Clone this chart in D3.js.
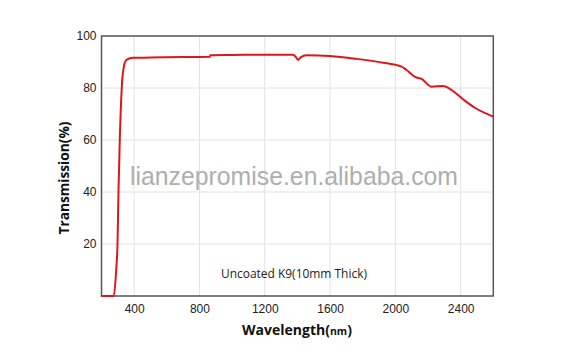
<!DOCTYPE html>
<html><head><meta charset="utf-8">
<script src="https://cdn.jsdelivr.net/npm/d3@7"></script>
<style>body{margin:0;background:#fff}svg{display:block}</style>
</head><body>
<svg id="c" width="585" height="356"></svg>
<script>
const wavelength = [200,275,290,298,304,312,324,337,353,394,500,700,864,866,1000,1200,1374,1392,1405,1420,1456,1600,1762,1925,2038,2069,2120,2161,2222,2293,2345,2416,2487,2600];
const transmission = [0,0,10,20,40,60,80,88.2,90.8,91.6,91.7,91.9,92.0,92.6,92.7,92.8,92.8,91.8,90.8,91.8,92.6,92.3,91.2,89.7,88.2,86.9,84.3,83.5,80.5,80.8,79.2,75.6,72.4,69.0];
const xTicks = [400,800,1200,1600,2000,2400];
const yTicks = [20,40,60,80,100];

const svg = d3.select("#c");
const L=101.5, R=493.3, T=36, B=296;
const x = d3.scaleLinear().domain([200,2600]).range([L,R]);
const y = d3.scaleLinear().domain([0,100]).range([B,T]);

// grid
svg.append("g").selectAll("line").data(xTicks).join("line")
  .attr("x1",d=>x(d)).attr("x2",d=>x(d)).attr("y1",T).attr("y2",B)
  .attr("stroke","#e2e2e2").attr("stroke-width",1);
svg.append("g").selectAll("line").data(yTicks.filter(d=>d<100)).join("line")
  .attr("x1",L).attr("x2",R).attr("y1",d=>y(d)).attr("y2",d=>y(d))
  .attr("stroke","#e2e2e2").attr("stroke-width",1);

// watermark
svg.append("text").attr("x",294).attr("y",185).attr("text-anchor","middle")
  .attr("font-family","Liberation Sans, Arial, sans-serif").attr("font-size",25)
  .attr("fill","#aeaeae").attr("textLength",328).attr("lengthAdjust","spacingAndGlyphs")
  .text("lianzepromise.en.alibaba.com");

// annotation
svg.append("text").attr("x",221).attr("y",278)
  .attr("font-family","Open Sans, Liberation Sans, sans-serif").attr("font-size",12.5)
  .attr("fill","#222").attr("textLength",146).attr("lengthAdjust","spacingAndGlyphs")
  .text("Uncoated K9(10mm Thick)");

// frame
svg.append("rect").attr("x",L).attr("y",T).attr("width",R-L).attr("height",B-T)
  .attr("fill","none").attr("stroke","#555").attr("stroke-width",1.5);

// axes
const xAxis = svg.append("g").attr("transform",`translate(0,${B})`)
  .call(d3.axisBottom(x).tickValues(xTicks).tickFormat(d3.format("d")).tickSize(0).tickPadding(6));
const yAxis = svg.append("g").attr("transform",`translate(${L},0)`)
  .call(d3.axisLeft(y).tickValues(yTicks).tickFormat(d3.format("d")).tickSize(0).tickPadding(5));
[xAxis,yAxis].forEach(a=>{
  a.select(".domain").remove();
  a.selectAll("text").attr("font-family","Liberation Sans, Arial, sans-serif")
   .attr("font-size",12).attr("fill","#222");
});
xAxis.selectAll("text").attr("dy","0.95em");

// line
const line = d3.line().x((d,i)=>x(wavelength[i])).y(d=>y(d)).curve(d3.curveMonotoneX);
svg.append("path").datum(transmission).attr("d",line)
  .attr("fill","none").attr("stroke","#e0141b").attr("stroke-width",2);

// axis titles
svg.append("text").attr("transform","translate(69,178) rotate(-90)")
  .attr("text-anchor","middle").attr("font-family","Open Sans, Liberation Sans, sans-serif")
  .attr("font-weight","bold").attr("font-size",14).attr("fill","#111")
  .attr("textLength",113).attr("lengthAdjust","spacingAndGlyphs")
  .text("Transmission(%)");
const xt = svg.append("text").attr("x",297).attr("y",335).attr("text-anchor","middle")
  .attr("font-family","Open Sans, Liberation Sans, sans-serif")
  .attr("font-weight","bold").attr("font-size",14).attr("fill","#111");
xt.append("tspan").text("Wavelength(");
xt.append("tspan").attr("font-size",10.5).text("nm");
xt.append("tspan").text(")");
</script>
</body></html>
